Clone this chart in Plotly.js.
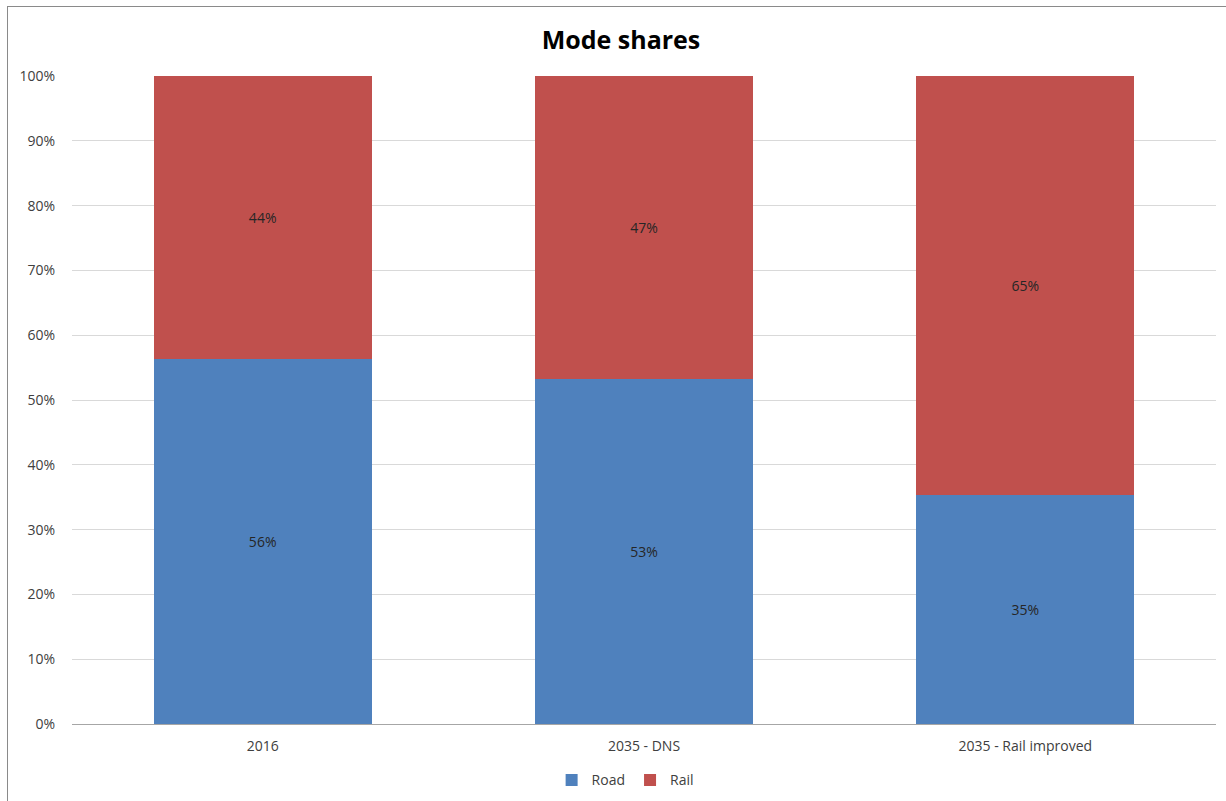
<!DOCTYPE html>
<html>
<head>
<meta charset="utf-8">
<script src="https://cdn.plot.ly/plotly-3.0.1.min.js"></script>
<style>
html,body{margin:0;padding:0;background:#fff;overflow:hidden;}
#frame{position:absolute;left:7px;top:6px;width:1240px;height:820px;border-left:1.5px solid #8a8a8a;border-top:1.5px solid #8a8a8a;pointer-events:none;z-index:5;}
#chart{position:absolute;left:0;top:0;width:1226px;height:801px;}
</style>
</head>
<body>
<div id="chart"></div>
<div id="frame"></div>
<script>
const categories = ["2016", "2035 - DNS", "2035 - Rail improved"];
const roadShare = [0.564, 0.533, 0.354];
const railShare = [0.436, 0.467, 0.646];
const seriesNames = ["Road", "Rail"];
const yTickVals = [0, 0.1, 0.2, 0.3, 0.4, 0.5, 0.6, 0.7, 0.8, 0.9, 1.0];

const font = "Open Sans, Liberation Sans, sans-serif";
const textFont = {family: font, size: 14, color: "#262626"};

const traces = [
  {type: "bar", name: seriesNames[0], x: categories, y: roadShare,
   marker: {color: "#4F81BD"}, texttemplate: "%{y:.0%}", textposition: "inside",
   insidetextanchor: "middle", textfont: textFont, hoverinfo: "skip"},
  {type: "bar", name: seriesNames[1], x: categories, y: railShare,
   marker: {color: "#C0504D"}, texttemplate: "%{y:.0%}", textposition: "inside",
   insidetextanchor: "middle", textfont: textFont, hoverinfo: "skip"}
];

const layout = {
  width: 1226, height: 801,
  margin: {l: 72, r: 10, t: 76, b: 77, autoexpand: false},
  paper_bgcolor: "#ffffff", plot_bgcolor: "#ffffff",
  barmode: "stack", bargap: 0.428,
  title: {text: "<b>Mode shares</b>", x: 0.5065, xanchor: "center", y: 0.95, yanchor: "middle",
          font: {family: font, size: 25, color: "#000"}},
  xaxis: {type: "category", showgrid: false, showline: false, zeroline: false, ticks: "",
          ticklabelstandoff: 12,
          tickfont: {family: font, size: 14, color: "#404040"}, fixedrange: true},
  yaxis: {range: [0, 1], tickvals: yTickVals, tickformat: ".0%", showgrid: true,
          gridcolor: "#d9d9d9", gridwidth: 1, zeroline: true, zerolinecolor: "#a6a6a6",
          zerolinewidth: 1, showline: false, ticks: "", ticklabelstandoff: 16,
          tickfont: {family: font, size: 14, color: "#404040"}, fixedrange: true},
  legend: {orientation: "h", x: 0.4835, xanchor: "center", y: -0.087, yanchor: "middle",
           font: {family: font, size: 14, color: "#404040"}, traceorder: "normal",
           itemwidth: 30, tracegroupgap: 0},
  showlegend: true
};

Plotly.newPlot("chart", traces, layout, {staticPlot: true, displayModeBar: false});
</script>
</body>
</html>
